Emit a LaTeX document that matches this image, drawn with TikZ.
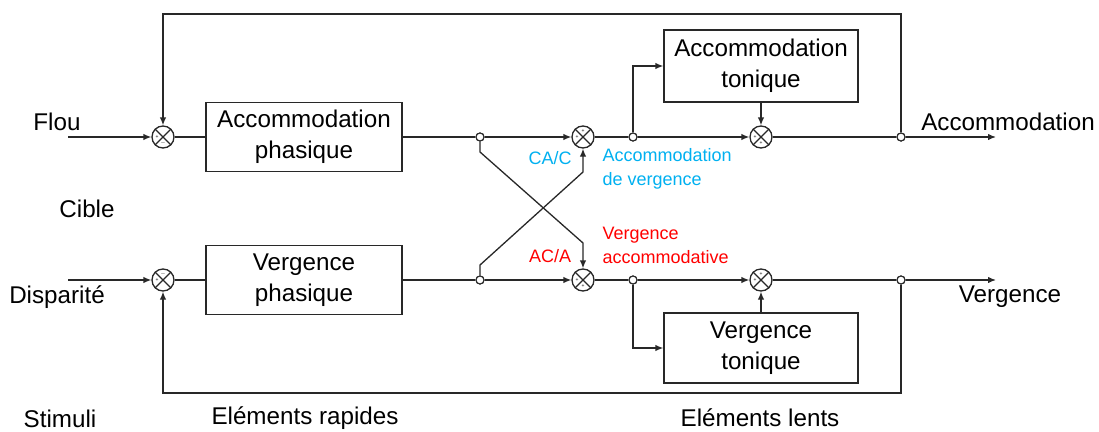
\documentclass[tikz,border=0pt]{standalone}
\usepackage{fontspec}
\setmainfont{Liberation Sans}
\usetikzlibrary{arrows.meta}
\definecolor{cy}{RGB}{0,176,240}
\definecolor{rd}{RGB}{255,0,0}
\definecolor{ln}{RGB}{40,40,40}
\begin{document}
\begin{tikzpicture}[x=1pt,y=-1pt,
  line width=1.3pt, draw=ln,
  arr/.style={-{Latex[length=8pt,width=6.5pt]}},
  blk/.style={draw=ln,rectangle,minimum width=196pt,inner sep=0pt,align=center,font=\fontsize{24.2}{31}\selectfont},
  jn/.style={draw=ln,circle,minimum size=22pt,inner sep=0pt,fill=white},
  br/.style={draw=ln,circle,minimum size=8pt,inner sep=0pt,fill=white,line width=1.1pt},
  lbl/.style={font=\fontsize{24.2}{28}\selectfont,inner sep=0pt},
  sml/.style={font=\fontsize{18}{24}\selectfont,inner sep=0pt,align=left},
  sg/.style={font=\fontsize{5}{5}\selectfont,inner sep=0pt}
]
\useasboundingbox (0,0) rectangle (1099,431);

% blocks
\node[blk,minimum height=69pt] (ap) at (304,137) {Accommodation\\phasique};
\node[blk,minimum height=69pt] (vp) at (304,280) {Vergence\\phasique};
\node[blk,minimum width=194pt,minimum height=72pt] (at) at (761,66) {Accommodation\\tonique};
\node[blk,minimum width=194pt,minimum height=70pt] (vt) at (761,348) {Vergence\\tonique};

% junctions
\node[jn] (j1) at (163,137) {};
\node[jn] (j2) at (163,280) {};
\node[jn] (j3) at (583,137) {};
\node[jn] (j4) at (583,280) {};
\node[jn] (j5) at (761,137) {};
\node[jn] (j6) at (761,280) {};
\foreach \j in {j1,j2,j3,j4,j5,j6}
  \draw[line width=1.1pt] (\j.45) -- (\j.225) (\j.135) -- (\j.315);

% branch points
\node[br] (b1) at (480,137) {};
\node[br] (b2) at (480,280) {};
\node[br] (b3) at (633,137) {};
\node[br] (b4) at (633,280) {};
\node[br] (b5) at (901,137) {};
\node[br] (b6) at (901,280) {};

% free ends
\coordinate (in1) at (68,137);
\coordinate (in2) at (68,280);
\coordinate (o1) at (996,137);
\coordinate (o2) at (996,280);
\coordinate (ft) at (901,14);
\coordinate (fb) at (901,393);
\coordinate (c1) at (480,152);
\coordinate (c2) at (583,243);
\coordinate (c3) at (480,265);
\coordinate (c4) at (583,172);

% top chain
\draw[arr] (in1) -- (j1);
\draw (j1) -- (ap);
\draw (ap) -- (b1);
\draw[arr] (b1) -- (j3);
\draw (j3) -- (b3);
\draw[arr] (b3) -- (j5);
\draw (j5) -- (b5);
\draw[arr] (b5) -- (o1);
\draw[arr] (b5) -- (ft) -| (j1);
\draw[arr] (b3) |- (at.west);
\draw[arr] (at) -- (j5);

% bottom chain
\draw[arr] (in2) -- (j2);
\draw (j2) -- (vp);
\draw (vp) -- (b2);
\draw[arr] (b2) -- (j4);
\draw (j4) -- (b4);
\draw[arr] (b4) -- (j6);
\draw (j6) -- (b6);
\draw[arr] (b6) -- (o2);
\draw[arr] (b6) -- (fb) -| (j2);
\draw[arr] (b4) |- (vt.west);
\draw[arr] (vt) -- (j6);

% cross coupling
\draw[arr] (b1) -- (c1) -- (c2) -- (j4);
\draw[arr] (b2) -- (c3) -- (c4) -- (j3);

% redraw branch points on top
\foreach \b in {b1,b2,b3,b4,b5,b6}
  \node[br] at (\b) {};

% signs
\node[sg] (s1a) at ([xshift=-6pt]j1.center) {+};
\node[sg] (s1b) at ([yshift=-6pt]j1.center) {$-$};
\node[sg] (s2a) at ([xshift=-6pt]j2.center) {+};
\node[sg] (s2b) at ([yshift=6pt]j2.center) {$-$};
\node[sg] (s3a) at ([xshift=-6pt]j3.center) {+};
\node[sg] (s3b) at ([yshift=6pt]j3.center) {+};
\node[sg] (s4a) at ([xshift=-6pt]j4.center) {+};
\node[sg] (s4b) at ([yshift=-6pt]j4.center) {+};
\node[sg] (s5a) at ([xshift=-6pt]j5.center) {+};
\node[sg] (s5b) at ([yshift=-6pt]j5.center) {+};
\node[sg] (s6a) at ([xshift=-6pt]j6.center) {+};
\node[sg] (s6b) at ([yshift=6pt]j6.center) {+};

% labels
\node[lbl] (tflou) at (57,122) {Flou};
\node[lbl] (tcible) at (87,209) {Cible};
\node[lbl] (tdisp) at (57,297) {Disparité};
\node[lbl] (tstim) at (60,419) {Stimuli};
\node[lbl] (trap) at (305,418) {Eléments rapides};
\node[lbl] (tlent) at (760,418) {Eléments lents};
\node[lbl] (tacc) at (1008,122) {Accommodation};
\node[lbl] (tverg) at (1010,297) {Vergence};

\node[sml,text=cy] (tcac) at (550,158) {CA/C};
\node[sml,text=rd] (taca) at (550,256) {AC/A};
\node[sml,text=cy,anchor=west] (tav) at (602,169) {Accommodation\\de vergence};
\node[sml,text=rd,anchor=west] (tva) at (602,245) {Vergence\\accommodative};
\end{tikzpicture}
\end{document}
